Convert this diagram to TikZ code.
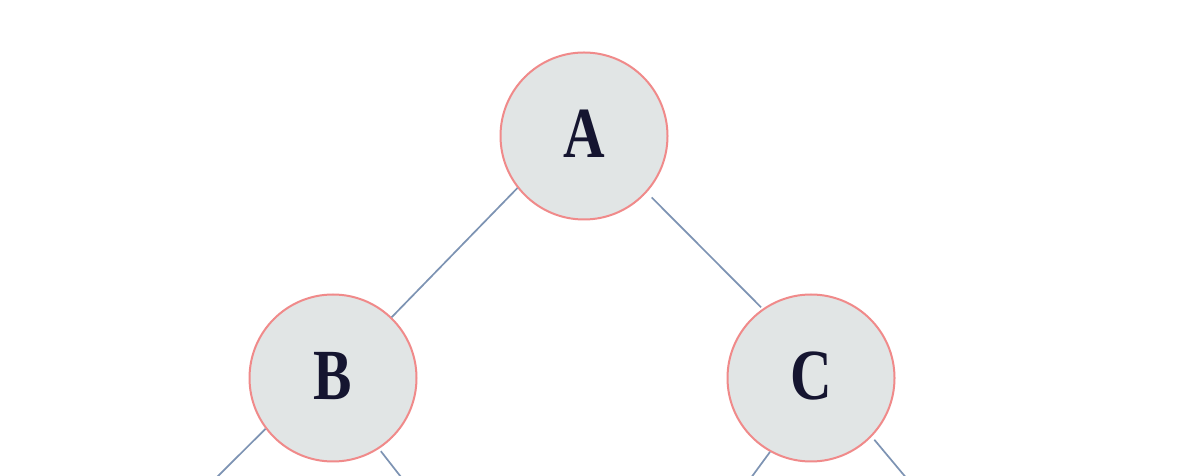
\documentclass[tikz,border=0pt]{standalone}
\usepackage{fontspec}
\setmainfont{Liberation Serif}
\usetikzlibrary{calc}
\definecolor{nodefill}{HTML}{E1E5E5}
\definecolor{nodeline}{HTML}{F08A8A}
\definecolor{edgeline}{HTML}{7D93B3}
\definecolor{labeltext}{HTML}{151530}
\tikzset{
  treenode/.style={circle, draw=nodeline, fill=nodefill, line width=2pt,
    minimum size=167pt, inner sep=0pt, text=labeltext,
    font=\fontsize{72}{72}\selectfont\bfseries},
  treeedge/.style={draw=edgeline, line width=1.7pt}
}
\newcommand{\narrow}[1]{\raisebox{5pt}{\scalebox{0.8}[1]{#1}}}
\begin{document}
\begin{tikzpicture}[x=1pt, y=1pt]
  \useasboundingbox (0,0) rectangle (1180,476);
  \clip (0,0) rectangle (1180,476);
  \fill[white] (0,0) rectangle (1180,476);

  % free ends of the lower branches, below the bottom edge
  \coordinate (BL) at (208,-10);
  \coordinate (BR) at (408,-10);
  \coordinate (CL) at (745,-10);
  \coordinate (CR) at (913,-10);

  \node[treenode] (A) at (584,340) {\narrow{A}};
  \node[treenode] (B) at (333,98) {\narrow{B}};
  \node[treenode] (C) at (811,98) {\narrow{C}};

  \draw[treeedge] (A.218) -- (B.46);
  \draw[treeedge, shorten <=7pt, shorten >=2pt] (A.-42) -- (C.125);
  \draw[treeedge] (B.217) -- (BL);
  \draw[treeedge, shorten <=3pt] (B.-57) -- (BR);
  \draw[treeedge] (C.241) -- (CL);
  \draw[treeedge, shorten <=4pt] (C.-44) -- (CR);
\end{tikzpicture}
\end{document}
